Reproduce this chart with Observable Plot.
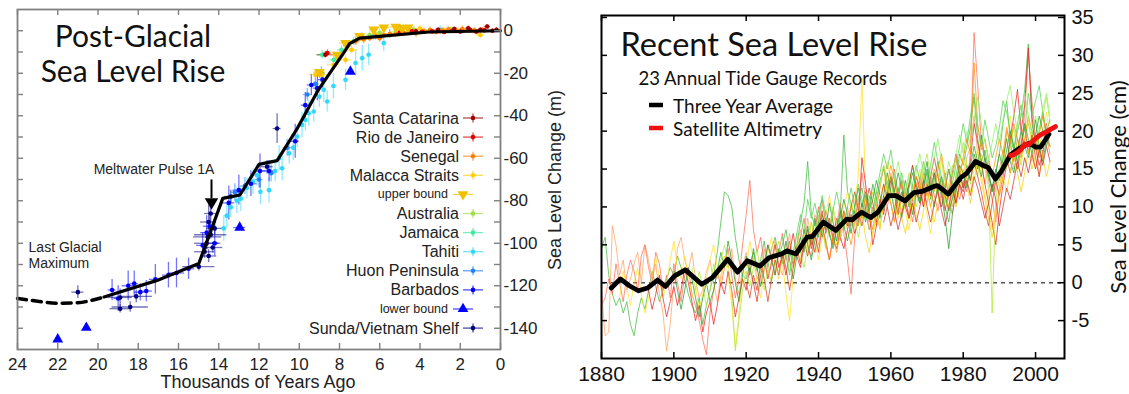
<!DOCTYPE html>
<html><head><meta charset="utf-8">
<script src="https://cdn.jsdelivr.net/npm/d3@7"></script>
<script src="https://cdn.jsdelivr.net/npm/@observablehq/plot@0.6"></script>
<style>
body{margin:0;background:#fff;}
#wrap{position:relative;width:1129px;height:394px;overflow:hidden;background:#fff;}
#left,#right{position:absolute;top:0;}
#left{left:0;width:575px;} #right{left:560px;width:569px;}
</style></head><body><div id="wrap"><div id="left"></div><div id="right"></div></div>
<script>
// ---------- LEFT PANEL DATA: [age kyr, sea level m, age error, level error] ----------
const santaCatarina = [[8.7,-11.3,0.4,1.5],[4.2,-0.3,0.15,1],[3.1,0.4,0.15,1],[2.3,0.8,0.15,1],[1.6,1.2,0.15,1],[1.0,0.4,0.15,1],[0.66,2.0,0.15,1],[0.2,0.5,0.1,1]];
const rioDeJaneiro = [[8.6,-10.5,0.2,1.5],[5.0,-0.8,0.15,1],[4.4,-0.2,0.15,1],[3.9,-0.5,0.15,1],[3.4,-0.3,0.15,1],[2.8,-0.6,0.15,1],[2.4,0.0,0.15,1],[2.0,-0.4,0.15,1],[1.5,0.3,0.15,1],[1.2,-0.5,0.15,1],[0.8,0.2,0.15,1],[0.4,0.0,0.15,1]];
const senegal = [[7.6,-7,0.2,2],[7.2,-5,0.2,2],[6.8,-4,0.2,2],[6.5,-3.5,0.2,1.5],[6.2,-2.5,0.2,2],[6.0,-3.5,0.2,2],[5.8,-2,0.2,1.5],[5.5,-1.5,0.2,2],[5.2,-1.5,0.2,1.5],[4.8,-1,0.2,1.5],[4.5,-0.5,0.2,1.5],[4.2,-1.2,0.2,2],[3.8,-0.2,0.2,1.5],[3.5,0.3,0.2,1.5],[3.2,-0.5,0.2,1.5],[2.9,0.2,0.2,1.5],[2.6,0.6,0.2,1.5],[2.2,0.0,0.2,1.5],[1.9,0.8,0.2,1.5],[1.6,0.4,0.2,1.5],[1.3,0.2,0.2,1.5],[0.9,0.5,0.2,1]];
const malaccaStraits = [[9.2,-20.7,0.3,2],[8.86,-20.7,0.3,2],[8.3,-16,0.3,2],[7.7,-13.7,0.3,2],[7.4,-9,0.3,2],[6.8,-4,0.3,2],[6.2,-2,0.3,1.5],[5.0,0.5,0.3,1.5],[4.0,1.0,0.3,1.5],[2.8,0.0,0.3,1.5],[1.0,-2.0,0.2,1.5]];
const upperBound = [[9.0,-19.5,0.3,0],[8.12,-11.3,0.3,0],[7.7,-5.8,0.3,0],[7.0,-2.5,0.2,0],[6.3,0.5,0.2,0],[5.8,1.5,0.3,0],[5.2,1.8,0.3,0],[4.9,1.2,0.3,0],[4.6,1.5,0.3,0]];
const australia = [[7.0,-3.5,0.2,1.5],[6.5,-2.0,0.2,1.5],[6.0,-1.0,0.2,1.5],[5.2,-0.5,0.2,1.5],[4.3,0.5,0.2,1.5],[3.5,0.2,0.2,1],[2.5,0.8,0.2,1]];
const jamaica = [[8.86,-11.3,0.3,2],[8.28,-13.7,0.2,2],[7.9,-9,0.2,2],[7.6,-7,0.2,2],[7.3,-5,0.2,2],[6.9,-3,0.2,2],[6.3,-2.5,0.2,2],[5.5,-1.5,0.2,2]];
const tahiti = [[13.75,-93,0.1,6],[13.6,-87,0.1,6],[13.4,-83,0.1,5],[13.1,-80,0.1,6],[12.9,-79,0.1,6],[12.6,-74,0.1,5],[12.3,-71,0.1,6],[12.1,-68,0.1,5],[11.93,-75.8,0.1,6],[11.5,-75,0.1,6],[11.2,-66,0.1,5],[11.0,-60,0.1,6],[10.85,-64.7,0.1,6],[10.5,-57.7,0.1,5],[10.3,-55,0.1,6],[10.1,-49.8,0.1,5],[9.86,-44.3,0.1,6],[9.7,-42,0.1,5],[9.53,-38.8,0.1,6],[9.28,-38,0.1,5],[9.0,-31,0.1,5],[8.78,-27.8,0.1,6],[8.61,-33.3,0.1,5],[8.3,-26,0.1,6],[7.7,-23.1,0.1,5],[7.2,-15.2,0.1,6],[6.87,-12.9,0.1,6],[6.55,-11.3,0.1,5],[5.8,-5.8,0.1,4],[3.0,0.5,0.1,2]];
const huonPeninsula = [[13.2,-76,0.2,4],[12.7,-73,0.2,4],[12.0,-70,0.2,4],[11.4,-67,0.2,4],[10.6,-55,0.2,4],[9.6,-30,0.2,3],[9.2,-25,0.2,4],[8.9,-20,0.2,3]];
const barbados = [[19.3,-122,0.2,5],[19.0,-126,0.2,6],[18.5,-120,0.3,7],[18.2,-119,0.2,6],[17.9,-123,0.3,4],[17.6,-122.5,0.3,5],[17.15,-117,0.3,7],[16.5,-115,0.3,6],[16.1,-114,0.4,7],[15.5,-112,0.3,5],[14.8,-101,0.3,6],[14.6,-95,0.3,8],[14.2,-100,0.3,6],[14.45,-92,0.3,5],[13.5,-81,0.3,8],[13.0,-75,0.3,7],[12.4,-72,0.3,6],[11.95,-66,0.3,8],[11.5,-66,0.3,5],[10.2,-52,0.2,8],[9.7,-35,0.2,6],[9.4,-25.5,0.2,5],[9.1,-27,0.2,6],[8.85,-23,0.2,4]];
const lowerBound = [[22.0,-145.2,0,0],[20.58,-139.7,0,0],[12.96,-92.6,0.3,0],[7.46,-19.2,0,0]];
const sundaShelf = [[21.0,-123,0.3,3],[18.9,-130.8,0.5,2],[18.4,-130,0.9,2.5],[18.9,-125.5,0.6,4],[18.1,-125,0.8,3],[14.99,-111,0.8,2],[14.6,-100,0.6,3],[14.5,-90,0.4,8],[14.7,-104,0.5,3],[14.4,-96,0.8,2],[14.3,-102,0.5,2.5],[14.2,-93,0.4,3],[14.55,-97,0.7,2],[14.5,-106,0.4,3],[14.4,-86,0.3,5],[13.4,-78,0.3,3],[11.6,-64,0.3,3],[11.1,-46,0.2,7]];

const siteNames  = ["Santa Catarina","Rio de Janeiro","Senegal","Malacca Straits","upper bound","Australia","Jamaica","Tahiti","Huon Peninsula","Barbados","lower bound","Sunda/Vietnam Shelf"];
const siteColors = ["#a00000","#e00000","#ff8000","#ffcc00","#f0c000","#a0e040","#40e8a0","#30d8ff","#2080ff","#0000ff","#0000ff","#000080"];
const siteData   = [santaCatarina,rioDeJaneiro,senegal,malaccaStraits,upperBound,australia,jamaica,tahiti,huonPeninsula,barbados,lowerBound,sundaShelf];
const siteDrawOrder = [7,8,9,11,6,5,3,2,1,0,4,10];

const glacialFitDashed = [[24,-126],[23,-127.3],[22,-128.2],[21,-128],[20.2,-126.6],[19.7,-125.3]];
const glacialFitSolid  = [[19.7,-125.3],[17.1,-117.6],[14.99,-109.5],[13.8,-78.9],[12.95,-77.3],[12.0,-62.9],[11.1,-61.1],[10.1,-46],[9.05,-27.8],[7.8,-10.5],[7.5,-6.1],[7.0,-3.5],[3.55,-0.6],[0,0]];

const kyrTicks = [24,22,20,18,16,14,12,10,8,6,4,2,0];
const meterTicks = [0,-20,-40,-60,-80,-100,-120,-140];
const meterMinor = [0,-10,-20,-30,-40,-50,-60,-70,-80,-90,-100,-110,-120,-130,-140];

// ---------- RIGHT PANEL DATA ----------
const gaugeStart = [1880,1880,1880,1885,1893,1900,1905,1920,1930,1940,1950,1955,1958,1935];
const gaugeColors = ["#3cba3c","#ffa060","#ff6a50","#ffe020","#e82020","#239b23","#b0e830","#d04020","#50d050","#ff9000","#f5d000","#8ef060","#c83030","#2f9f2f"];
const gaugeValues = [
 [4.5,6.0,1.0,-1.5,-3.0,-2.0,-4.0,-2.5,-5.5,-7.0,-4.0,-2.0,-3.5,-1.0,1.5,-0.5,-2.5,-1.0,0.5,2.0,1.0,3.5,2.0,0.5,-1.5,-3.0,-4.0,-2.0,-5.5,-3.0,-1.0,1.0,4.0,8.0,12.0,11.5,10.0,6.0,3.0,1.0,0.5,2.5,4.0,1.5,3.0,5.5,2.0,4.5,6.0,3.5,5.0,7.0,4.0,2.5,5.0,8.0,10.5,16.0,9.0,7.5,9.5,11.0,8.0,6.5,5.0,7.0,9.0,19.5,12.0,10.5,8.0,11.0,12.5,9.5,7.0,8.5,11.0,13.5,15.0,12.5,14.0,12.0,10.0,8.5,11.0,13.0,15.5,12.0,10.5,13.0,14.5,11.0,13.5,16.0,12.5,10.0,8.0,11.5,14.0,17.0,15.5,18.0,20.5,24.5,19.0,16.0,17.5,15.0,12.0,14.5,17.0,21.0,24.0,19.0,17.5,20.0,22.0,25.5,31.5,21.0,18.5,20.0,22.5,19.0,18.0],
 [-1.0,-7.0,-6.5,7.5,5.0,1.0,3.0,-1.0,0.5,2.5,4.0,0.0,5.0,3.0,0.5,2.5,-1.5,-4.0,-9.0,-5.5,0.0,4.5,6.0,3.0,1.5,4.0,0.5,-2.0,-1.0,1.5,3.0,0.0,-2.5,1.0,3.5,2.0,4.5,0.5,-1.5,2.0,4.0,1.5,3.5,0.5,2.0,4.5,1.0,3.0,5.5,2.5,1.0,4.0,6.5,3.0,5.0,7.0,4.5,8.5,6.0,9.0,7.5,10.5,8.0,6.0,9.5,7.0,5.5,8.0,10.0,7.5,9.0,11.5,8.5,10.0,7.0,9.5,12.0,10.5,13.0,11.0,14.5,12.5,9.5,11.0,12.5,10.0,13.0,11.5,14.0,12.0,10.5,13.5,15.0,12.0,13.5,11.0,12.5,10.0,13.0,15.5,14.0,16.5,18.0,22.0,17.0,15.5,13.0,16.0,14.5,12.0,15.0,17.5,16.0,18.5,15.0,17.0,19.5,21.0,17.5,16.0,18.5,14.0,16.5],
 [-3.0,-2.0,0.5,-1.5,2.5,0.0,-2.5,1.0,3.0,1.5,-1.0,3.5,5.0,2.0,0.0,4.0,2.5,-1.0,1.0,-2.0,2.5,0.0,-2.5,1.0,2.0,-1.5,-3.0,-5.0,-7.5,-9.5,-4.0,-1.0,1.5,-0.5,2.0,4.5,1.0,-2.0,0.5,5.0,9.0,13.5,7.0,4.0,6.0,2.5,5.0,3.5,1.0,4.0,6.5,3.0,5.5,2.0,4.5,6.0,8.5,5.0,3.5,6.5,10.0,7.0,9.5,8.0,5.5,7.5,10.5,6.5,3.0,-1.5,6.0,9.5,14.5,11.0,8.0,10.0,7.5,9.0,11.5,10.0,12.5,15.0,11.5,9.0,12.0,10.5,8.0,11.5,13.5,10.0,12.5,14.0,11.5,9.5,12.0,14.5,11.0,9.0,12.5,11.0,13.5,12.0,17.5,33.0,26.0,18.5,16.0,13.5,11.0,8.0,12.5,15.0,20.0,18.5,16.0,19.0,17.0,22.5,30.0,24.0,19.0,16.5,18.5,20.0,18.0],
 [-2.0,1.5,-0.5,-3.0,0.0,2.0,-1.5,-4.0,-2.0,1.0,3.5,0.5,-2.0,0.0,3.0,5.5,2.0,0.5,3.5,1.0,-2.0,-0.5,-3.5,-1.5,0.5,3.0,5.0,2.0,0.0,3.5,1.0,-3.0,-8.5,-4.0,0.5,2.0,5.5,3.0,0.0,-2.0,1.5,4.0,6.0,2.5,0.5,3.0,-1.5,-5.0,1.0,4.5,3.0,6.5,4.0,8.0,5.5,3.0,6.0,9.0,11.5,8.0,5.0,7.5,10.0,12.0,9.5,11.0,14.0,27.0,12.5,9.0,6.5,8.0,10.5,13.0,16.0,13.5,10.0,8.5,11.0,9.5,7.0,10.0,12.5,15.0,11.5,9.0,6.5,10.5,13.0,16.5,12.0,10.0,13.5,11.0,14.0,16.5,13.5,12.0,15.0,18.0,14.5,11.5,9.5,7.0,10.0,12.5,16.0,19.5,22.0,18.0,14.5,16.5,19.0,21.5,17.5,15.0,17.5,20.0,22.5,19.5],
 [-1.0,-3.5,-1.5,1.0,-2.0,-4.5,-2.5,-0.5,-3.0,-1.0,2.0,0.0,-2.5,-5.0,-3.0,-6.5,-4.0,-2.5,-5.5,-3.0,0.0,-1.5,1.5,-1.0,-4.5,-2.0,0.5,-1.0,2.0,0.0,-2.5,1.0,3.0,0.5,2.5,5.0,2.0,3.5,1.0,4.0,6.5,3.5,2.0,5.0,7.0,4.5,6.5,4.0,7.5,5.5,3.0,6.0,8.5,6.0,4.5,7.0,9.0,6.5,8.0,16.5,13.0,9.5,5.0,7.5,11.0,9.0,12.0,10.5,8.0,11.5,13.5,10.0,8.5,11.0,14.0,12.5,10.0,13.0,11.5,14.5,12.0,10.0,12.5,15.0,12.5,10.5,13.0,12.0,14.5,16.0,21.0,18.5,16.0,13.0,10.5,8.0,5.0,9.5,13.0,15.5,19.0,22.0,25.5,20.0,23.5,31.0,22.0,18.0,15.5,17.0,21.0],
 [1.5,-1.0,-3.5,-1.0,2.0,0.5,-2.0,-4.5,-2.0,0.0,-2.5,-1.0,1.5,4.0,2.0,5.5,3.0,0.0,-2.5,1.0,3.5,1.0,4.5,2.0,-0.5,2.0,5.0,3.0,1.0,4.5,2.5,5.5,3.0,0.5,3.5,6.0,4.0,7.5,5.0,8.5,6.0,9.0,7.0,10.5,8.0,5.5,8.5,11.0,9.0,6.5,9.5,7.5,10.5,8.0,10.0,13.0,11.0,8.5,11.5,14.5,12.0,9.5,12.5,11.0,13.5,11.5,9.0,12.0,10.5,13.5,16.0,12.5,10.0,13.0,11.5,8.5,4.5,9.0,12.0,14.5,12.5,15.5,13.5,17.0,15.0,19.5,16.5,14.0,12.5,15.0,13.5,16.5,19.0,16.0,14.5,17.5,20.0,18.0,16.5,19.0,21.5,18.0,16.0,19.0,20.5],
 [2.0,-1.0,1.5,-0.5,-3.0,-1.0,2.5,0.5,3.0,5.0,2.5,-1.5,-9.0,-5.0,-1.0,1.5,-0.5,2.0,4.5,1.5,-1.0,2.0,0.0,3.0,5.5,2.5,4.5,1.5,3.5,6.5,4.0,2.0,5.0,8.0,6.0,9.0,7.0,4.5,7.5,10.0,8.0,6.0,9.0,7.5,10.5,8.5,6.0,9.0,11.5,9.5,12.0,10.0,7.5,10.5,13.0,11.0,13.5,11.0,9.5,12.0,14.5,12.5,10.0,12.5,15.0,17.0,14.0,12.0,14.5,12.5,10.5,13.0,15.5,13.5,16.0,18.5,15.5,13.0,16.5,14.0,17.0,15.0,12.5,-4.0,11.0,14.0,17.5,15.0,18.0,20.5,17.0,15.5,18.5,21.0,19.0,17.5,20.0,22.0,24.5,21.0],
 [0.0,-2.0,1.0,-1.0,2.5,0.5,-2.5,0.5,3.0,1.0,4.0,2.0,-1.0,2.0,4.5,2.5,5.5,3.5,6.0,4.0,7.0,9.5,6.5,8.5,6.0,4.5,7.0,9.5,7.5,10.0,12.0,9.5,7.5,10.0,12.5,10.5,8.0,10.5,13.0,11.0,13.5,11.5,9.0,12.0,10.5,13.0,15.5,13.0,11.0,13.5,11.5,14.0,16.5,14.0,12.0,9.5,12.0,14.5,17.0,14.5,12.5,15.0,13.5,16.0,14.0,12.0,9.5,7.5,10.5,13.5,11.5,14.0,16.5,14.5,17.0,15.0,18.0,20.5,17.0,19.5,16.5,14.0,17.5],
 [6.0,3.5,1.0,4.0,6.5,9.0,6.5,11.0,8.5,10.5,8.0,11.5,9.0,6.5,9.5,12.0,9.5,7.0,10.0,12.5,10.0,13.0,11.0,8.5,11.5,9.0,12.0,14.5,17.0,15.0,17.5,14.0,12.0,14.5,12.0,10.0,13.0,15.5,13.5,16.0,13.0,15.5,18.5,16.0,14.0,12.5,15.0,13.0,15.5,18.0,21.0,18.5,22.0,25.0,20.5,18.0,21.5,19.0,16.5,18.0,20.5,24.0,22.5,20.0,17.5,21.0,23.5,20.0,25.0,22.0,24.0,26.0,22.5,20.0,21.5],
 [5.0,7.5,5.0,3.0,6.0,4.0,6.5,9.0,7.0,5.0,8.0,10.5,8.5,11.5,9.0,7.0,10.0,12.5,15.5,13.0,15.5,13.5,11.0,13.5,11.0,9.0,11.5,14.0,12.0,14.5,12.5,10.0,12.5,15.0,17.0,14.0,11.5,14.0,16.5,14.0,16.5,19.0,17.0,29.0,21.0,17.5,19.0,16.5,14.0,16.5,19.0,17.0,20.5,18.5,21.0,19.0,16.5,19.0,22.0,20.0,17.5,19.5,22.0,19.5,17.0],
 [10.0,7.5,9.5,6.0,4.0,6.5,9.0,7.0,10.5,13.0,10.5,8.0,10.5,8.5,6.5,9.0,11.5,9.0,7.0,9.5,12.0,10.0,8.0,10.5,13.0,11.0,9.5,12.0,10.0,12.5,15.0,13.0,10.5,13.5,16.0,13.5,11.0,8.5,6.0,9.0,11.5,14.0,12.0,14.5,17.0,14.5,12.0,14.5,17.5,15.0,17.0,19.5,16.5,14.0,16.0],
 [13.0,10.5,13.0,15.5,13.0,11.0,13.5,16.0,13.5,11.5,14.0,12.0,14.5,17.0,14.5,12.0,14.5,16.5,19.0,16.0,13.5,16.0,14.0,17.0,19.5,17.0,20.0,18.0,21.5,24.5,21.0,18.5,16.0,18.5,21.0,18.5,21.5,24.0,26.0,22.5,20.0,22.5,25.0,22.0,19.5,22.0,20.0,23.0,25.0,22.0],
 [8.0,10.0,7.5,9.5,7.0,9.0,11.0,8.5,10.5,8.0,10.0,12.5,10.0,8.0,10.5,12.0,9.5,7.5,10.0,12.5,10.5,13.0,11.0,13.5,11.5,14.0,12.5,10.5,8.5,10.5,13.0,11.0,7.5,10.0,12.5,11.0,13.5,16.0,14.0,16.5,14.5,17.0,15.0,17.5,15.5,18.0,16.0],
 [4.0,7.0,5.0,3.0,5.5,8.0,6.0,8.5,6.5,4.5,7.0,9.5,7.5,5.5,8.0,10.0,12.5,10.0,12.0,9.5,11.0,13.5,11.5,9.5,12.0,14.0,12.0,14.5,12.5,10.0,12.5,14.5,12.5,10.5,12.5,15.0,12.5,14.5,12.0,14.0,11.5,9.5,11.0,13.0,15.5,14.5,12.5,15.5,18.0,16.0,14.0,16.5,14.5,12.0,14.5,17.0,15.0,17.5,20.0,18.0,16.0,18.5,21.0,19.0,17.0,19.5,22.0,20.0,18.0,19.5]
];
const threeYearAvg = [[1882.7,-0.7],[1885.2,0.5],[1887.7,-0.4],[1890.2,-1.06],[1892.7,-0.7],[1895.5,0.35],[1897.7,-0.5],[1900.2,0.9],[1903.2,1.7],[1907.7,-0.2],[1910.7,0.7],[1914.9,3.1],[1917.6,1.4],[1920.3,2.9],[1923.8,2.2],[1926.3,3.3],[1929.8,3.8],[1931.3,4.2],[1933.8,3.8],[1936.8,6.0],[1938.3,6.1],[1941.3,8.0],[1944.8,6.9],[1947.8,8.4],[1949.3,8.3],[1951.9,9.3],[1954.4,8.6],[1956.4,9.3],[1959.4,11.5],[1961.4,11.5],[1963.9,10.8],[1966.4,11.9],[1968.9,12.1],[1971.9,12.7],[1972.9,12.8],[1975.9,11.7],[1979.4,13.9],[1980.9,14.4],[1983.4,16.0],[1985.4,15.5],[1986.9,15.2],[1988.9,13.7],[1990.4,14.6],[1993.1,16.9],[1995.4,17.7],[1998.2,18.4],[2000.1,17.9],[2001.4,17.9],[2003.7,19.6]];
const satelliteAltimetry = [[1993.1,16.8],[1994,16.9],[1995,17.2],[1996,17.6],[1997,18.3],[1998,18.2],[1999,18.6],[2000,19.0],[2001,19.4],[2002,19.7],[2003,19.9],[2004,20.2],[2005.5,20.6]];
const yearTicks = [1880,1900,1920,1940,1960,1980,2000];
const cmTicks = [-5,0,5,10,15,20,25,30,35];

// ---------- helpers ----------
const rowsFrom = a => a.map(([x, y]) => ({x, y}));
const sans = "'Liberation Sans', Arial, sans-serif";
const human = "Lato, 'Open Sans', sans-serif";
function inwardTicks(xs, ys, fw, fh, len, stroke, sw) {
  return [
    Plot.tickX(xs, {x: d => d, insetTop: fh - len, stroke, strokeWidth: sw}),
    Plot.tickX(xs, {x: d => d, insetBottom: fh - len, stroke, strokeWidth: sw}),
    Plot.tickY(ys, {y: d => d, insetLeft: fw - len, stroke, strokeWidth: sw}),
    Plot.tickY(ys, {y: d => d, insetRight: fw - len, stroke, strokeWidth: sw})
  ];
}

// ---------- LEFT CHART ----------
const pts = [];
siteDrawOrder.forEach(i => siteData[i].forEach(([age, level, ae, le]) =>
  pts.push({site: siteNames[i], color: siteColors[i], age, level, ae, le, kind: siteNames[i] === "upper bound" ? "down" : siteNames[i] === "lower bound" ? "up" : "dot"})));

const LW = 575, LH = 394, LM = {l: 17, r: 75, t: 9, b: 45};
const leftChart = Plot.plot({
  width: LW, height: LH,
  marginLeft: LM.l, marginRight: LM.r, marginTop: LM.t, marginBottom: LM.b,
  style: {fontFamily: sans, background: "transparent", color: "#222"},
  x: {domain: [24, 0]},
  y: {domain: [-150, 10]},
  color: {type: "identity"},
  marks: [
    Plot.axisY({anchor: "right", ticks: meterTicks, tickSize: 0, tickPadding: 3, fontSize: 17, tickFormat: d => String(d), label: null}),
    Plot.axisX({anchor: "bottom", ticks: kyrTicks, tickSize: 0, tickPadding: 8, fontSize: 17, tickFormat: d => String(d), label: null}),
    Plot.ruleX(pts.filter(d => d.le > 0), {x: "age", y1: d => d.level - d.le, y2: d => d.level + d.le, stroke: "color", strokeOpacity: 0.55, strokeWidth: 1.3}),
    Plot.ruleY(pts.filter(d => d.ae > 0), {y: "level", x1: d => d.age + d.ae, x2: d => d.age - d.ae, stroke: "color", strokeOpacity: 0.55, strokeWidth: 1.3}),
    Plot.dot(pts.filter(d => d.kind === "dot"), {x: "age", y: "level", r: 2.3, fill: "color"}),
    Plot.dot(pts.filter(d => d.kind === "down"), {x: "age", y: "level", r: 4, symbol: "triangle", rotate: 180, fill: "color"}),
    Plot.dot(pts.filter(d => d.kind === "up"), {x: "age", y: "level", r: 4, symbol: "triangle", fill: "color"}),
    Plot.line(rowsFrom(glacialFitDashed), {x: "x", y: "y", stroke: "black", strokeWidth: 3.5, strokeDasharray: "9,6", curve: "monotone-x"}),
    Plot.line(rowsFrom(glacialFitSolid), {x: "x", y: "y", stroke: "black", strokeWidth: 3.2, strokeLinejoin: "round"}),
    Plot.ruleX([{x: 14.36, y1: -70.2, y2: -79}], {x: "x", y1: "y1", y2: "y2", stroke: "black", strokeWidth: 2}),
    Plot.dot([{x: 14.36, y: -80.6}], {x: "x", y: "y", symbol: "triangle", rotate: 180, r: 5, fill: "black"}),
    Plot.text([{x: 17.22, y: -65.1, t: "Meltwater Pulse 1A"}], {x: "x", y: "y", text: "t", fontSize: 14, fill: "#222"}),
    Plot.text([{x: 23.45, y: -105.4, t: "Last Glacial\nMaximum"}], {x: "x", y: "y", text: "t", textAnchor: "start", lineHeight: 1.2, fontSize: 14, fill: "#222"}),
    Plot.text(["Post-Glacial\nSea Level Rise"], {frameAnchor: "top-left", dx: 115.5, dy: 43.5, textAnchor: "middle", lineAnchor: "middle", lineHeight: 1.17, fontSize: 30, fontFamily: human, fill: "#111"}),
    ...inwardTicks(kyrTicks, meterMinor, LW - LM.l - LM.r, LH - LM.t - LM.b, 6, "#808080", 1.4),
    Plot.frame({stroke: "#808080", strokeWidth: 1.8})
  ]
});
document.getElementById("left").append(leftChart);
const svgL = d3.select(leftChart);
svgL.append("text").attr("x", 258).attr("y", 382).attr("text-anchor", "middle").attr("dominant-baseline", "central")
  .attr("font-family", sans).attr("font-size", 18).attr("fill", "#222").text("Thousands of Years Ago");
svgL.append("text").attr("transform", "translate(555,180) rotate(-90)").attr("text-anchor", "middle").attr("dominant-baseline", "central")
  .attr("font-family", sans).attr("font-size", 18).attr("fill", "#222").text("Sea Level Change (m)");
const lg = svgL.append("g");
siteNames.forEach((name, i) => {
  const y = 118 + i * 19.1;
  const bound = name.endsWith("bound");
  const mx = bound ? 463 : 473;
  lg.append("text").attr("x", bound ? 448 : 459).attr("y", y).attr("text-anchor", "end").attr("dominant-baseline", "central")
    .attr("font-family", sans).attr("font-size", bound ? 12.5 : 16).attr("fill", "#222").text(name);
  lg.append("line").attr("x1", mx - 10).attr("x2", mx + 10).attr("y1", y).attr("y2", y).attr("stroke", siteColors[i]).attr("stroke-opacity", 0.7).attr("stroke-width", 1.3);
  if (bound) {
    const s = d3.symbol(d3.symbolTriangle, 50)();
    lg.append("path").attr("d", s).attr("transform", `translate(${mx},${y}) rotate(${name.startsWith("upper") ? 180 : 0})`).attr("fill", siteColors[i]);
  } else {
    lg.append("line").attr("x1", mx).attr("x2", mx).attr("y1", y - 4.5).attr("y2", y + 4.5).attr("stroke", siteColors[i]).attr("stroke-opacity", 0.7).attr("stroke-width", 1.3);
    lg.append("circle").attr("cx", mx).attr("cy", y).attr("r", 2.3).attr("fill", siteColors[i]);
  }
});

// ---------- RIGHT CHART ----------
const gaugeRows = [];
gaugeValues.forEach((vals, s) => vals.forEach((v, k) => gaugeRows.push({id: s, year: gaugeStart[s] + k, value: v, color: gaugeColors[s]})));
const RW = 569, RH = 394, RM = {l: 41, r: 65, t: 15, b: 36};
const rightChart = Plot.plot({
  width: RW, height: RH,
  marginLeft: RM.l, marginRight: RM.r, marginTop: RM.t, marginBottom: RM.b,
  style: {fontFamily: sans, background: "transparent", color: "#111"},
  x: {domain: [1880, 2008]},
  y: {domain: [-10, 35.26]},
  color: {type: "identity"},
  marks: [
    Plot.ruleY([0], {stroke: "#555", strokeWidth: 1.6, strokeDasharray: "4,4"}),
    Plot.line(gaugeRows, {x: "year", y: "value", z: "id", stroke: "color", strokeWidth: 1, strokeOpacity: 0.72}),
    Plot.line(rowsFrom(threeYearAvg), {x: "x", y: "y", stroke: "black", strokeWidth: 4.8, strokeLinejoin: "round", strokeLinecap: "round"}),
    Plot.line(rowsFrom(satelliteAltimetry), {x: "x", y: "y", stroke: "#ee1111", strokeWidth: 4.8, strokeLinejoin: "round"}),
    ...inwardTicks(yearTicks, cmTicks, RW - RM.l - RM.r, RH - RM.t - RM.b, 6, "black", 1.5),
    Plot.frame({stroke: "black", strokeWidth: 2}),
    Plot.axisY({anchor: "right", ticks: cmTicks, tickSize: 0, tickPadding: 7, fontSize: 20, tickFormat: d => String(d), label: null}),
    Plot.axisX({anchor: "bottom", ticks: yearTicks, tickSize: 0, tickPadding: 8, fontSize: 21, tickFormat: d => String(d), label: null}),
    Plot.text(["Recent Sea Level Rise"], {frameAnchor: "top-left", dx: 19, dy: 30, textAnchor: "start", lineAnchor: "middle", fontSize: 32.5, fontFamily: human, fill: "#111"}),
    Plot.text(["23 Annual Tide Gauge Records"], {frameAnchor: "top-left", dx: 37, dy: 64, textAnchor: "start", lineAnchor: "middle", fontSize: 18.5, fontFamily: human, fill: "#111"})
  ]
});
document.getElementById("right").append(rightChart);
const svgR = d3.select(rightChart);
[["Three Year Average", "black", 105], ["Satellite Altimetry", "#ee1111", 128]].forEach(([t, c, y]) => {
  svgR.append("line").attr("x1", 89).attr("x2", 103).attr("y1", y).attr("y2", y).attr("stroke", c).attr("stroke-width", 4.5);
  svgR.append("text").attr("x", 113).attr("y", y).attr("text-anchor", "start").attr("dominant-baseline", "central").attr("font-family", human).attr("font-size", 19).attr("fill", "#111").text(t);
});
svgR.append("text").attr("transform", "translate(557,187) rotate(-90)").attr("text-anchor", "middle").attr("dominant-baseline", "central")
  .attr("font-family", human).attr("font-size", 22).attr("fill", "#111").text("Sea Level Change (cm)");
</script>
</body></html>
